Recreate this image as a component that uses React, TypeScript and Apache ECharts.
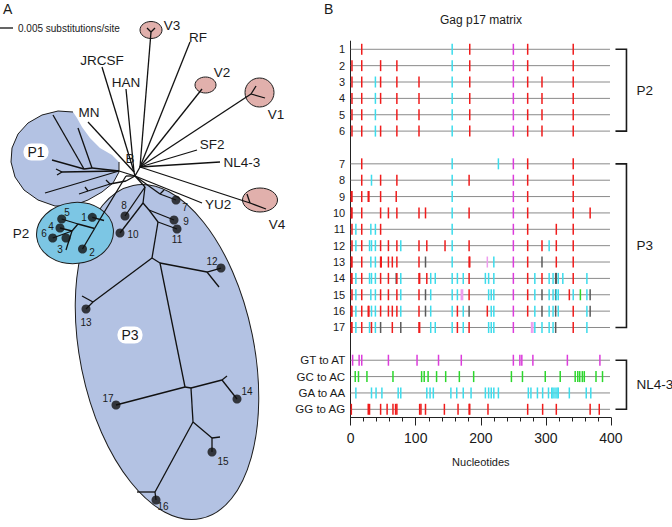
import React, { useEffect, useRef } from "react";
import * as echarts from "echarts";

const FONT = "'Liberation Sans', Arial, Helvetica, sans-serif";

// ---------------- Panel B: Gag p17 matrix ----------------
const rowLabels = [
  "1", "2", "3", "4", "5", "6", " ",
  "7", "8", "9", "10", "11", "12", "13", "14", "15", "16", "17", "  ",
  "GT to AT", "GC to AC", "GA to AA", "GG to AG",
];
const xTicks = [0, 100, 200, 300, 400];

// nucleotide position + colour code (r red, c cyan, m magenta, g green, k grey, p pink)
const clone1 = "17r 156c 183r 250m 272r 342r";
const clone2 = "2r 17r 46r 71r 156c 183r 250m 272r 342r";
const clone3 = "2r 17r 38c 46r 71r 105r 156c 183r 250m 272r 294r 342r";
const clone4 = "2r 17r 38c 46r 71r 105r 156c 183r 250m 272r 294r 342r";
const clone5 = "2r 17r 38c 71r 105r 156c 183r 250m 272r 294r 342r";
const clone6 = "2r 17r 38c 46r 71r 105r 156c 183r 250m 272r 294r 342r";
const clone7 = "17r 156c 227c 250m 272r 342r";
const clone8 = "17r 32c 46r 71r 156c 182r 250m 272r 342r";
const clone9 = "1r 2r 17r 27r 28r 46r 70r 156c 250m 272r 342r";
const clone10 = "1r 2r 17r 46r 58r 71r 105r 115r 156c 182r 250m 272r 342r 368r";
const clone11 = "2r 8c 17r 31c 38c 46r 156c 250m 272r 316r 342r";
const clone12 = "2r 8c 17r 29c 32c 38c 46r 58r 71r 77c 105r 117r 145r 156c 182r 250m 272r 294r 305c 316r 342r";
const clone13 = "1r 2r 17r 31c 38c 46r 47r 58r 64r 71r 105r 115k 156c 182r 183r 210p 220c 250m 272r 294k 316r 342r";
const clone14 = "1r 2r 8c 17r 29c 32c 38c 46r 58r 70k 71r 77c 105r 106r 117r 123c 130c 156c 164c 173c 182r 207c 212c 220c 250m 272r 283c 294r 305c 311c 315k 316k 319c 326c 342r 363c";
const clone15 = "2r 8c 17r 31c 38c 46r 58r 71r 77c 105r 115k 123c 156c 164c 170p 172p 182r 212c 216c 220c 250m 272r 283c 294k 305c 311c 315k 316c 319c 336r 342c 353g 363c 368k";
const clone16 = "1r 2r 8c 17r 27r 28r 32c 38c 46r 58r 64r 71r 77c 105r 115k 123c 156c 164r 173c 182k 210r 216c 220c 250m 272r 283c 294k 305c 311c 315k 319c 342r 363c 368k";
const clone17 = "1r 2r 8c 17r 29c 32r 38c 46k 64r 77k 105r 106r 123c 130c 156c 164r 173c 182r 212c 216c 220c 250m 278p 280p 283c 294c 305c 311c 315k 342r 363c";
const cloneRows = [clone1, clone2, clone3, clone4, clone5, clone6, clone7, clone8, clone9,
  clone10, clone11, clone12, clone13, clone14, clone15, clone16, clone17];

const nlGT = [3, 13, 17, 58, 102, 135, 170, 250, 260, 263, 280, 333, 383];
const nlGC = [7, 12, 25, 65, 109, 113, 119, 132, 146, 167, 189, 247, 264, 299, 322, 345, 349, 352, 356, 359, 377, 387];
const nlGA = [8, 32, 39, 48, 73, 77, 117, 122, 127, 154, 163, 173, 185, 207, 212, 216, 220, 227, 273, 277, 287, 295, 304, 309, 311, 314, 317, 319, 336, 362, 369];
const nlGG = [1, 27, 29, 46, 56, 65, 69, 71, 106, 108, 115, 144, 165, 182, 183, 211, 272, 295, 316, 368, 382];
const nlRows: [string, number[], string][] = [
  ["GT to AT", nlGT, "m"], ["GC to AC", nlGC, "g"], ["GA to AA", nlGA, "c"], ["GG to AG", nlGG, "r"],
];

const bracketNames = ["P2", "P3", "NL4-3"];
const bracketFirst = ["1", "7", "GT to AT"];
const bracketLast = ["6", "17", "GG to AG"];

const colorCodes = ["r", "c", "m", "g", "k", "p"];
const mutColors = ["#f01c1c", "#3cdcec", "#dc3cdc", "#2cd82c", "#5a5a5a", "#ee9cee"];

// ---------------- Panel A: tree (layout units) ----------------
const treeNodes: [string, number, number][] = [
  ["R", 135, 176], ["J", 134, 172], ["H", 140, 167],
  ["V3a", 151, 32], ["V3l", 147, 28], ["V3r", 155, 28],
  ["RF", 190, 42], ["V2", 202, 89],
  ["V1a", 251, 94], ["V1b", 256, 86], ["V1c", 265, 98],
  ["SF2", 197, 150], ["NL43", 220, 162],
  ["V4a", 250, 203], ["V4b", 247, 194], ["V4", 266, 209],
  ["YU2", 202, 203],
  ["JRCSF", 102, 67], ["HAN", 126, 89], ["MN", 88, 122],
  ["A1", 119, 171], ["A2", 92, 168], ["P1a", 78, 128], ["A3", 84, 169], ["P1b", 53, 115], ["P1c", 52, 160],
  ["P1dj", 62, 172], ["P1d1", 56, 169], ["P1d2", 57, 175], ["P1e", 45, 193],
  ["A4", 126, 181], ["A5", 110, 184], ["A6", 88, 191], ["P1f", 79, 194], ["P1g", 85, 187], ["P1h", 106, 180],
  ["P2r", 126, 176], ["K1", 99.5, 220], ["K1e", 104, 220.5], ["K2", 94.6, 228.5], ["S", 78, 224], ["Q", 72, 231], ["Qt", 66, 250],
  ["c1", 92.3, 217.3], ["c2", 82.5, 249], ["c3", 66, 238], ["c4", 60, 228], ["c5", 61.7, 219], ["c6", 52.7, 238],
  ["T0", 145, 187], ["D7j", 160, 194], ["D7f", 164, 190], ["T1", 143, 203], ["T2", 149, 210], ["T3", 158, 222],
  ["N1", 152, 258], ["T13", 93, 302], ["T13f", 82, 296], ["N1b", 160, 263], ["T12", 207, 272], ["T12f", 219, 287],
  ["N2", 185, 387], ["N2b", 191, 388], ["T14", 222, 380], ["T14f", 227, 376], ["N3", 193, 422],
  ["T15", 212, 438], ["T15f", 220, 437], ["T16", 155, 492], ["T16f", 137, 492],
  ["c7", 176, 200], ["c8", 125, 216], ["c9", 174, 220], ["c10", 120, 233], ["c11", 177, 229], ["c12", 221, 268],
  ["c13", 86, 309], ["c14", 237, 399], ["c15", 212, 452], ["c16", 156, 500], ["c17", 116, 405],
];

const treeEdges: [string, string][] = [
  ["R", "J"], ["R", "H"], ["J", "JRCSF"], ["J", "HAN"], ["J", "MN"],
  ["H", "V3a"], ["V3a", "V3l"], ["V3a", "V3r"], ["H", "RF"], ["H", "V2"],
  ["H", "V1a"], ["V1a", "V1b"], ["V1a", "V1c"], ["H", "SF2"], ["H", "NL43"],
  ["H", "V4a"], ["V4a", "V4"], ["V4a", "V4b"], ["R", "YU2"],
  ["R", "A1"], ["A1", "A2"], ["A2", "P1a"], ["A2", "A3"], ["A3", "P1b"], ["A3", "P1c"],
  ["A1", "P1dj"], ["P1dj", "P1d1"], ["P1dj", "P1d2"], ["A1", "P1e"],
  ["R", "A4"], ["A4", "A5"], ["A5", "A6"], ["A6", "P1f"], ["A6", "P1g"], ["A5", "P1h"],
  ["R", "P2r"], ["P2r", "K1"], ["K1", "K2"], ["K2", "c2"], ["c1", "K1e"], ["K2", "S"],
  ["S", "c5"], ["S", "Q"], ["Q", "c4"], ["Q", "c6"], ["Q", "Qt"],
  ["R", "T0"], ["R", "D7j"], ["D7j", "c7"], ["D7j", "D7f"], ["T0", "c8"], ["T0", "T1"],
  ["T1", "c10"], ["T1", "T2"], ["T2", "c9"], ["T2", "T3"], ["T3", "c11"], ["T3", "N1"],
  ["N1", "T13"], ["T13", "c13"], ["T13", "T13f"], ["N1", "N1b"], ["N1b", "T12"], ["T12", "c12"], ["T12", "T12f"],
  ["N1b", "N2"], ["N2", "c17"], ["N2", "N2b"], ["N2b", "T14"], ["T14", "T14f"], ["T14", "c14"],
  ["N2b", "N3"], ["N3", "T15"], ["T15", "T15f"], ["T15", "c15"], ["N3", "T16"], ["T16", "T16f"], ["T16", "c16"],
];

const cloneLabels: [string, number, number][] = [
  ["1", 84, 217], ["2", 92, 252], ["3", 60, 249], ["4", 51, 226], ["5", 67, 212], ["6", 44, 233],
  ["7", 185, 207], ["8", 124, 205], ["9", 186, 221], ["10", 133, 234], ["11", 177, 239],
  ["12", 212, 261], ["13", 86, 322], ["14", 247, 391], ["15", 223, 461], ["16", 163, 506], ["17", 108, 398],
];

const strainLabels: [string, number, number][] = [
  ["V3", 172, 25], ["RF", 198, 37], ["JRCSF", 102, 60], ["HAN", 126, 82], ["V2", 222, 72],
  ["V1", 276, 114], ["MN", 89, 112], ["SF2", 212, 144], ["NL4-3", 242, 162], ["B", 130, 158],
  ["YU2", 218, 204], ["V4", 277, 224], ["P2", 21, 233],
];

const groupTags: [string, number, number][] = [["P1", 36, 152], ["P3", 130, 335]];

// [cx, cy, rx, ry, rotationDeg, kind]
const regionEllipses: number[][] = [
  [167, 352, 87, 170, 11.5, 0],
  [75, 233, 38.5, 30.5, 6, 1],
  [151, 30, 11, 8.5, 0, 2],
  [205.5, 85, 10.5, 8, 0, 2],
  [259.5, 92.5, 14.5, 14.5, 0, 2],
  [260, 200, 17.5, 12, 0, 2],
];
const regionFill = ["#b3c2e3", "#7cc6e4", "#e1b0ac"];

const p1Outline: [number, number][] = [
  [73, 112], [58, 111], [42, 115], [28, 123], [18, 134], [12, 148], [11, 162], [15, 177],
  [24, 190], [38, 200], [55, 206], [72, 206], [88, 200], [102, 192], [113, 183], [119, 172],
  [119, 162], [112, 155], [100, 148], [90, 138], [82, 127], [77, 118],
];

function parseRow(s: string): [number, number][] {
  return s.trim().split(/\s+/).map((t) => {
    const pos = parseFloat(t);
    const code = t.replace(/[0-9.]/g, "");
    return [pos, colorCodes.indexOf(code)];
  });
}

function buildOption(): any {
  const nodeMap = new Map<string, [number, number]>();
  treeNodes.forEach(([id, x, y]) => nodeMap.set(id, [x, y]));
  const edgeData = treeEdges.map(([a, b]) => [...nodeMap.get(a)!, ...nodeMap.get(b)!]);
  const dotData = cloneLabels.map(([t]) => nodeMap.get("c" + t)!);

  const tickData: number[][] = [];
  cloneRows.forEach((s, i) => {
    const slot = rowLabels.indexOf(String(i + 1));
    parseRow(s).forEach(([p, c]) => tickData.push([p, slot, c]));
  });
  nlRows.forEach(([lab, arr, code]) => {
    const slot = rowLabels.indexOf(lab);
    arr.forEach((p) => tickData.push([p, slot, colorCodes.indexOf(code)]));
  });
  const rowLineData = rowLabels
    .map((l, i) => [0, i, l.trim() ? 1 : 0])
    .filter((d) => d[2] === 1);

  const bracketData = bracketNames.map((_, i) => [
    400, rowLabels.indexOf(bracketFirst[i]), rowLabels.indexOf(bracketLast[i]), i,
  ]);
  const bracketPad = [[0.28, 0.25], [0.5, 0.4], [0.15, 0.2]];

  const textBase = { fontFamily: FONT, fill: "#1a1a1a" };

  return {
    animation: false,
    textStyle: { fontFamily: FONT },
    grid: [
      { left: 0, top: 0, width: 672, height: 527 },
      { left: 350.67, top: 41.1, width: 260.3, height: 376.4 },
    ],
    xAxis: [
      { gridIndex: 0, type: "value", min: 0, max: 672, show: false },
      {
        gridIndex: 1, type: "value", min: 0, max: 400, interval: 100,
        axisLine: { show: true, lineStyle: { color: "#222", width: 1 } },
        axisTick: { show: true, length: 8, lineStyle: { color: "#222" } },
        minorTick: { show: true, splitNumber: 5, length: 4, lineStyle: { color: "#222" } },
        splitLine: { show: false },
        axisLabel: { fontSize: 14, color: "#1a1a1a", margin: 13, fontFamily: FONT,
          formatter: (v: number) => (xTicks.indexOf(v) >= 0 ? String(v) : "") },
        name: "Nucleotides", nameLocation: "middle", nameGap: 39,
        nameTextStyle: { fontSize: 11, color: "#1a1a1a", fontFamily: FONT },
      },
    ],
    yAxis: [
      { gridIndex: 0, type: "value", min: 0, max: 527, inverse: true, show: false },
      {
        gridIndex: 1, type: "category", data: rowLabels, inverse: true,
        axisLine: { show: true, lineStyle: { color: "#222", width: 1 } },
        axisTick: { show: false },
        splitLine: { show: false },
        axisLabel: {
          interval: 0, margin: 5.5, color: "#1a1a1a", fontFamily: FONT,
          formatter: (v: string) => (v.length > 3 ? `{b|${v}}` : `{a|${v}}`),
          rich: { a: { fontSize: 11, fontFamily: FONT }, b: { fontSize: 11.5, fontFamily: FONT } },
        },
      },
    ],
    graphic: [
      { type: "text", left: 3, top: 2, style: { text: "A", fontSize: 14, ...textBase } },
      { type: "text", left: 324, top: 2, style: { text: "B", fontSize: 14, ...textBase } },
      { type: "text", x: 481, y: 20, style: { text: "Gag p17 matrix", fontSize: 12, align: "center", verticalAlign: "middle", ...textBase } },
      { type: "line", shape: { x1: 0, y1: 28, x2: 13, y2: 28 }, style: { stroke: "#111", lineWidth: 1.3 } },
      { type: "text", x: 18, y: 28, style: { text: "0.005 substitutions/site", fontSize: 10, verticalAlign: "middle", ...textBase } },
    ],
    series: [
      // P1 blob
      {
        type: "custom", xAxisIndex: 0, yAxisIndex: 0, z: 1, silent: true,
        data: [[0, 0]],
        renderItem: (_p: any, api: any) => {
          const pts = p1Outline.map((q) => api.coord(q));
          return {
            type: "group",
            children: [
              { type: "polygon", shape: { points: pts }, style: { fill: regionFill[0], stroke: "none" } },
              { type: "polyline", shape: { points: pts.slice(0, 17) }, style: { fill: "none", stroke: "#1c1c1c", lineWidth: 1 } },
            ],
          };
        },
      },
      // Ellipses
      {
        type: "custom", xAxisIndex: 0, yAxisIndex: 0, z: 2, silent: true,
        data: regionEllipses,
        renderItem: (_p: any, api: any) => {
          const c = api.coord([api.value(0), api.value(1)]);
          const s = api.size([api.value(2), api.value(3)]);
          return {
            type: "ellipse", x: c[0], y: c[1], rotation: (api.value(4) * Math.PI) / 180,
            shape: { cx: 0, cy: 0, rx: s[0], ry: s[1] },
            style: { fill: regionFill[api.value(5)], stroke: "#1c1c1c", lineWidth: 1 },
          };
        },
      },
      // Tree edges
      {
        type: "custom", xAxisIndex: 0, yAxisIndex: 0, z: 4, silent: true,
        data: edgeData,
        renderItem: (_p: any, api: any) => {
          const a = api.coord([api.value(0), api.value(1)]);
          const b = api.coord([api.value(2), api.value(3)]);
          return { type: "line", shape: { x1: a[0], y1: a[1], x2: b[0], y2: b[1] }, style: { stroke: "#111", lineWidth: 1.3 } };
        },
      },
      // Clone dots
      {
        type: "scatter", xAxisIndex: 0, yAxisIndex: 0, z: 5, silent: true,
        symbol: "circle", symbolSize: 9, data: dotData,
        itemStyle: { color: "#111" },
      },
      // Tree texts
      {
        type: "custom", xAxisIndex: 0, yAxisIndex: 0, z: 6, silent: true,
        data: [
          ...cloneLabels.map(([, x, y]) => [x, y, 0]),
          ...strainLabels.map(([, x, y]) => [x, y, 1]),
          ...groupTags.map(([, x, y]) => [x, y, 2]),
        ],
        renderItem: (p: any, api: any) => {
          const c = api.coord([api.value(0), api.value(1)]);
          const kind = api.value(2);
          const i = p.dataIndex;
          let text = "";
          if (kind === 0) text = cloneLabels[i][0];
          else if (kind === 1) text = strainLabels[i - cloneLabels.length][0];
          else text = groupTags[i - cloneLabels.length - strainLabels.length][0];
          const style: any = {
            text, x: 0, y: 0, align: "center", verticalAlign: "middle",
            fontSize: kind === 0 ? 10 : kind === 1 ? 13.5 : 14, ...textBase,
          };
          if (kind === 2) {
            style.backgroundColor = "#ffffff";
            style.borderRadius = 8;
            style.padding = [2, 4, 1, 4];
          }
          return { type: "text", x: c[0], y: c[1], style };
        },
      },
      // Row lines
      {
        type: "custom", xAxisIndex: 1, yAxisIndex: 1, z: 2, silent: true,
        data: rowLineData,
        renderItem: (_p: any, api: any) => {
          const a = api.coord([0, api.value(1)]);
          const b = api.coord([398.5, api.value(1)]);
          return { type: "line", shape: { x1: a[0], y1: a[1], x2: b[0], y2: b[1] }, style: { stroke: "#8a8a8a", lineWidth: 1 } };
        },
      },
      // Mutation ticks
      {
        type: "custom", xAxisIndex: 1, yAxisIndex: 1, z: 3, silent: true,
        data: tickData,
        renderItem: (_p: any, api: any) => {
          const c = api.coord([api.value(0), api.value(1)]);
          return {
            type: "line",
            shape: { x1: c[0], y1: c[1] - 5.5, x2: c[0], y2: c[1] + 5.5 },
            style: { stroke: mutColors[api.value(2)], lineWidth: 1.5 },
          };
        },
      },
      // Brackets
      {
        type: "custom", xAxisIndex: 1, yAxisIndex: 1, z: 3, silent: true,
        data: bracketData,
        renderItem: (p: any, api: any) => {
          const i = api.value(3);
          const pad = bracketPad[i];
          const top = api.coord([api.value(0), api.value(1) - pad[0]]);
          const bot = api.coord([api.value(0), api.value(2) + pad[1]]);
          const x0 = top[0] + 4.5;
          const x1 = x0 + 11;
          return {
            type: "group",
            children: [
              {
                type: "polyline",
                shape: { points: [[x0, top[1]], [x1, top[1]], [x1, bot[1]], [x0, bot[1]]] },
                style: { fill: "none", stroke: "#1a1a1a", lineWidth: 1.6 },
              },
              {
                type: "text", x: x1 + 10, y: (top[1] + bot[1]) / 2,
                style: { text: bracketNames[i], fontSize: 13.5, verticalAlign: "middle", ...textBase },
              },
            ],
          };
        },
      },
    ],
  };
}

export default function App() {
  const ref = useRef<HTMLDivElement>(null);
  useEffect(() => {
    document.body.style.margin = "0";
    const chart = echarts.init(ref.current!, null, { renderer: "svg" });
    chart.setOption(buildOption());
    return () => chart.dispose();
  }, []);
  return <div ref={ref} style={{ width: 672, height: 527 }} />;
}
